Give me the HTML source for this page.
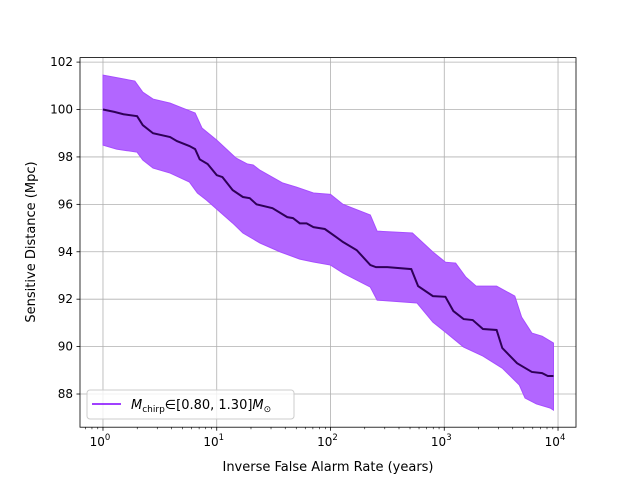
<!DOCTYPE html>
<html><head><meta charset="utf-8"><style>
body{margin:0;background:#fff}
svg{display:block;font-family:"DejaVu Sans","Liberation Sans",sans-serif}
</style></head><body>
<svg id="chart" width="640" height="480" viewBox="0 0 640 480" xmlns="http://www.w3.org/2000/svg">
<rect width="640" height="480" fill="#fff"/>
<g id="grid"></g>
<g id="plot"></g>
<rect x="80" y="57.6" width="496" height="369.6" fill="none" stroke="#000" stroke-width="0.8"/>
<g id="ticks"></g>
<text x="328" y="471" font-size="13" text-anchor="middle">Inverse False Alarm Rate (years)</text>
<text transform="translate(35,242) rotate(-90)" font-size="13" text-anchor="middle">Sensitive Distance (Mpc)</text>
<g>
<rect x="87" y="390" width="207" height="29" rx="3" fill="#fff" fill-opacity="0.8" stroke="#ccc"/>
<line x1="92" y1="404" x2="121" y2="404" stroke="#8000ff" stroke-width="1.5"/>
<text x="131" y="409" font-size="13"><tspan font-style="italic">M</tspan><tspan font-size="9" dy="3">chirp</tspan><tspan dy="-3">∈[0.80, 1.30]</tspan><tspan font-style="italic">M</tspan><tspan font-size="9" dy="3">⊙</tspan></text>
</g>
</svg>
<script>
const lineLog10Ifar=[0,0.1,0.18,0.3,0.35,0.44,0.59,0.65,0.76,0.81,0.85,0.92,1.0,1.05,1.14,1.23,1.29,1.35,1.49,1.62,1.67,1.73,1.79,1.85,1.95,2.05,2.11,2.23,2.35,2.4,2.5,2.71,2.77,2.9,3.01,3.08,3.17,3.25,3.34,3.46,3.51,3.64,3.71,3.77,3.86,3.91,3.96];
const lineDistance=[100.0,99.9,99.8,99.72,99.34,99.0,98.84,98.67,98.46,98.33,97.9,97.7,97.23,97.15,96.6,96.31,96.26,96.0,95.84,95.46,95.42,95.2,95.2,95.04,94.96,94.62,94.41,94.07,93.44,93.35,93.35,93.27,92.55,92.13,92.1,91.5,91.16,91.12,90.74,90.7,89.94,89.3,89.1,88.93,88.88,88.76,88.76];
const upperLog10Ifar=[0,0.09,0.28,0.35,0.44,0.59,0.7,0.81,0.87,1.0,1.17,1.27,1.32,1.38,1.58,1.7,1.85,2.0,2.11,2.35,2.41,2.72,2.9,3.01,3.1,3.19,3.28,3.46,3.62,3.68,3.77,3.86,3.96];
const upperDistance=[101.45,101.37,101.2,100.73,100.44,100.27,100.06,99.85,99.22,98.71,97.95,97.7,97.66,97.44,96.9,96.73,96.48,96.42,96.0,95.55,94.87,94.79,93.99,93.56,93.52,92.93,92.55,92.55,92.13,91.24,90.57,90.44,90.15];
const lowerLog10Ifar=[0,0.12,0.3,0.35,0.44,0.59,0.76,0.83,0.91,1.0,1.14,1.23,1.38,1.56,1.73,1.85,2.0,2.11,2.35,2.41,2.76,2.9,3.01,3.17,3.34,3.51,3.66,3.71,3.81,3.93,3.96];
const lowerDistance=[98.5,98.33,98.2,97.87,97.53,97.32,96.94,96.48,96.18,95.8,95.21,94.79,94.37,93.99,93.69,93.57,93.44,93.1,92.51,91.96,91.84,91.03,90.61,89.98,89.6,89.09,88.38,87.83,87.58,87.41,87.32];
const yTicks=[88,90,92,94,96,98,100,102];
const xTickExps=[0,1,2,3,4];

const NS="http://www.w3.org/2000/svg";
const L=80,R=576,T=57.6,B=427.2,xmin=-0.202,xmax=4.158,ymin=86.6,ymax=102.19;
const xs=e=>L+(e-xmin)/(xmax-xmin)*(R-L);
const ys=v=>B-(v-ymin)/(ymax-ymin)*(B-T);
function mk(tag,attrs,parent){const el=document.createElementNS(NS,tag);for(const k in attrs)el.setAttribute(k,attrs[k]);parent.appendChild(el);return el;}
const grid=document.getElementById('grid'),plot=document.getElementById('plot'),ticks=document.getElementById('ticks');
yTicks.forEach(v=>{
  const g=mk('line',{x1:L,x2:R,y1:ys(v),y2:ys(v),stroke:'#b0b0b0','stroke-width':0.8},grid);
  
  
  const t=mk('line',{x1:L-3.5,x2:L,y1:ys(v),y2:ys(v),stroke:'#000','stroke-width':0.8},ticks);
  
  
  const tx=mk('text',{x:L-7,y:ys(v)+4,'font-size':12,'text-anchor':'end'},ticks);
  tx.textContent=v;
  
  
});
xTickExps.forEach(e=>{
  const g=mk('line',{x1:xs(e),x2:xs(e),y1:T,y2:B,stroke:'#b0b0b0','stroke-width':0.8},grid);
  
  
  const t=mk('line',{x1:xs(e),x2:xs(e),y1:B,y2:B+3.5,stroke:'#000','stroke-width':0.8},ticks);
  
  
  const tx=mk('text',{x:xs(e)-3,y:B+19,'font-size':12,'text-anchor':'middle'},ticks);
  tx.innerHTML='10<tspan font-size="8.5" dy="-6">'+e+'</tspan>';
  
  
});
for(let d=-1;d<=4;d++){for(let m=2;m<=9;m++){const e=d+Math.log10(m);if(e<xmin||e>xmax)continue;
  const t=mk('line',{x1:xs(e),x2:xs(e),y1:B,y2:B+2,stroke:'#000','stroke-width':0.6},ticks);
  
  
}}
let pts=upperLog10Ifar.map((e,i)=>xs(e)+','+ys(upperDistance[i]));
for(let i=lowerLog10Ifar.length-1;i>=0;i--)pts.push(xs(lowerLog10Ifar[i])+','+ys(lowerDistance[i]));
const band=mk('polygon',{points:pts.join(' '),fill:'#b266ff',stroke:'#a64dff','stroke-width':1},plot);


const line=mk('polyline',{points:lineLog10Ifar.map((e,i)=>xs(e)+','+ys(lineDistance[i])).join(' '),fill:'none',stroke:'#2e0057','stroke-width':2},plot);


</script>
</body></html>
